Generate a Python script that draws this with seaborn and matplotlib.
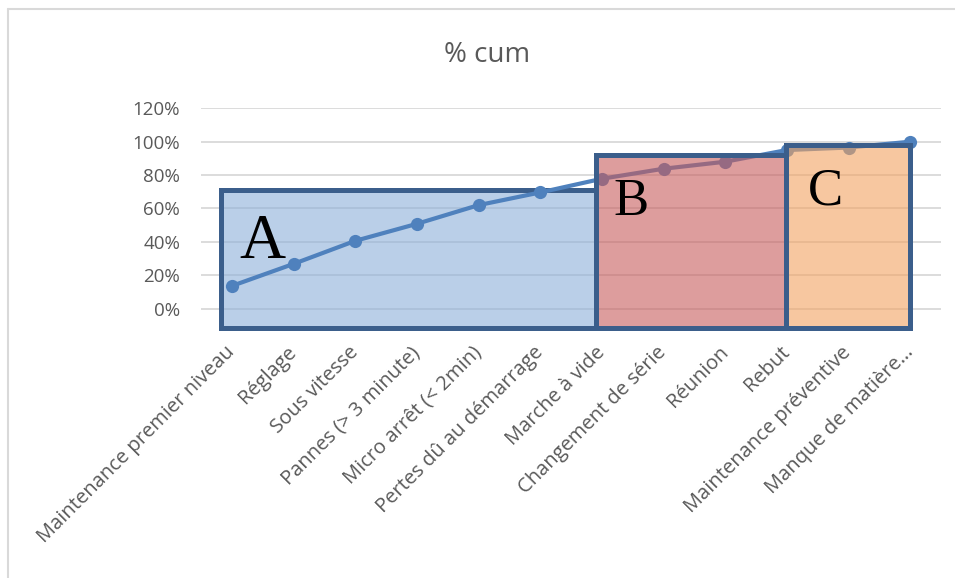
import matplotlib
matplotlib.use("Agg")
import matplotlib.pyplot as plt
from matplotlib.patches import Rectangle
from matplotlib.lines import Line2D
from matplotlib.ticker import PercentFormatter
import seaborn as sns
import pandas as pd

# Cumulative share of losses, by cause (Pareto order)
causes = [
    "Maintenance premier niveau", "Réglage", "Sous vitesse",
    "Pannes (> 3 minute)", "Micro arrêt (< 2min)", "Pertes dû au démarrage",
    "Marche à vide", "Changement de série", "Réunion", "Rebut",
    "Maintenance préventive", "Manque de matière…",
]
cum_pct = [0.136, 0.268, 0.406, 0.508, 0.620, 0.696,
           0.778, 0.838, 0.880, 0.950, 0.965, 1.000]
y_ticks = [0.0, 0.2, 0.4, 0.6, 0.8, 1.0, 1.2]

# ABC classes
classes = ["A", "B", "C"]
class_start = [-0.18, 5.9, 8.99]
class_end = [5.9, 8.99, 11.0]
class_top = [0.712, 0.922, 0.982]
class_bottom = -0.116

df = pd.DataFrame({"pos": range(len(causes)), "cause": causes, "cum": cum_pct})

sns.set_theme(style="white")
plt.rcParams["font.family"] = ["Open Sans", "DejaVu Sans"]

fig = plt.figure(figsize=(9.55, 5.78), dpi=100)
ax = fig.add_axes([201 / 955, 1 - 328.7 / 578, 740 / 955, 220.4 / 578])

line_col = "#4F81BD"
sns.lineplot(data=df, x="pos", y="cum", ax=ax, color=line_col, linewidth=3.0,
             marker="o", markersize=9.5, markeredgewidth=0, sort=False, zorder=3)

ax.set_xlim(-0.5, len(causes) - 0.5)
ax.set_ylim(-0.12, 1.2)
ax.set_yticks(y_ticks)
ax.yaxis.set_major_formatter(PercentFormatter(1.0, decimals=0))
ax.set_xticks(range(len(causes)))
ax.set_xticklabels(causes, rotation=45, ha="right", va="center",
                   rotation_mode="anchor")
ax.tick_params(axis="x", length=0, pad=15, labelsize=14.5, labelcolor="#595959")
ax.tick_params(axis="y", length=0, pad=15, labelsize=13.5, labelcolor="#595959")
ax.set_xlabel("")
ax.set_ylabel("")
for s in ax.spines.values():
    s.set_visible(False)
for t in y_ticks:
    ax.axhline(t, color="#D9D9D9", linewidth=1.3, zorder=1)
ax.grid(False)

# Class zones: A sits under the curve, B and C over it
fills = [(0.55, 0.69, 0.85, 0.6), (0.78, 0.36, 0.36, 0.6), (0.95, 0.64, 0.38, 0.6)]
edge = "#3B5E8B"
letter_pos = [(0.5, 0.304, 46), (6.47, 0.562, 38), (9.62, 0.622, 38)]
for i, name in enumerate(classes):
    z = 2 if i == 0 else 4
    ax.add_patch(Rectangle((class_start[i], class_bottom),
                           class_end[i] - class_start[i],
                           class_top[i] - class_bottom,
                           facecolor=fills[i], edgecolor=edge, linewidth=3.6,
                           zorder=z, clip_on=False))
    lx, ly, fs = letter_pos[i]
    ax.text(lx, ly, name, ha="center", va="baseline", fontsize=fs,
            family=["Liberation Serif", "DejaVu Serif"], color="black", zorder=6)

fig.text(487 / 955, 1 - 55 / 578, "% cum", ha="center", va="center",
         fontsize=20, color="#595959")

# Chart frame
fig.add_artist(Line2D([8 / 955, 8 / 955], [0, 1 - 9 / 578], color="#D9D9D9",
                      linewidth=1.5, transform=fig.transFigure))
fig.add_artist(Line2D([8 / 955, 1], [1 - 9 / 578, 1 - 9 / 578], color="#D9D9D9",
                      linewidth=1.5, transform=fig.transFigure))

fig.savefig("out.png", dpi=100, facecolor="white")
